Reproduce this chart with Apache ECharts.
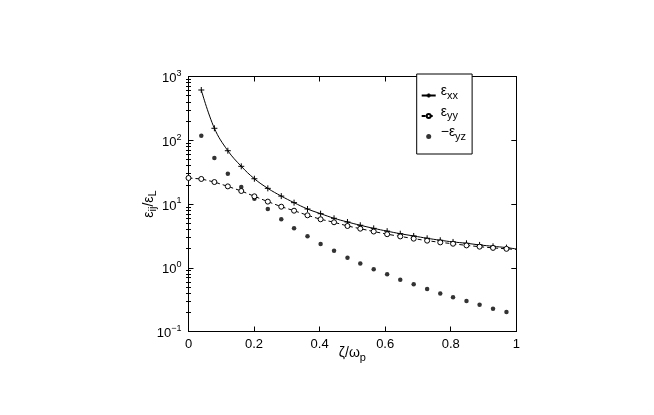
<!DOCTYPE html>
<html><head><meta charset="utf-8">
<script src="https://cdn.jsdelivr.net/npm/echarts@6/dist/echarts.min.js"></script>
<style>html,body{margin:0;padding:0;background:#fff}#c{width:654px;height:415px}</style>
</head><body><div id="c"></div>
<script>
// x tick labels and y decades
const xTicks = [0, 0.2, 0.4, 0.6, 0.8, 1];
const yDecades = [0.1, 1, 10, 100, 1000];
const yMinorTicks = [0.2,0.3,0.4,0.5,0.6,0.7,0.8,0.9, 2,3,4,5,6,7,8,9, 20,30,40,50,60,70,80,90, 200,300,400,500,600,700,800,900];

// sample positions zeta/omega_p
const zeta = [0.039,0.079,0.120,0.161,0.201,0.242,0.283,0.322,0.363,0.403,0.444,0.485,0.524,0.565,0.606,0.646,0.687,0.728,0.768,0.807,0.848,0.888,0.929,0.970];

// eps_xx / eps_L
const epsXX = [614,154,68.5,39.0,24.9,17.6,13.3,10.5,8.35,7.05,5.97,5.22,4.64,4.15,3.75,3.42,3.15,2.90,2.70,2.54,2.42,2.28,2.17,2.07];
const epsXXEnd = [1.0, 1.97];

// eps_yy / eps_L
const epsYYStart = [0, 25.6];
const epsYY = [24.7,22.1,18.9,16.0,13.2,10.9,9.07,7.85,6.65,5.76,5.17,4.52,4.10,3.70,3.36,3.10,2.86,2.66,2.50,2.38,2.24,2.14,2.05,1.98];
const epsYYEnd = [1.0, 1.94];

// -eps_yz / eps_L
const epsYZ = [118,52.7,29.9,18.5,12.1,8.36,5.76,4.16,3.11,2.36,1.85,1.44,1.17,0.946,0.789,0.650,0.550,0.464,0.395,0.344,0.301,0.263,0.228,0.202];

const FONT = 'Liberation Sans, Arial, sans-serif';
const supMap = {'-1':'\u22121','0':'0','1':'1','2':'2','3':'3'};

const xxData = zeta.map((x,i)=>[x, epsXX[i]]);
xxData.push({value: epsXXEnd, symbol: 'none'});
const yyData = [epsYYStart].concat(zeta.map((x,i)=>[x, epsYY[i]]));
yyData.push({value: epsYYEnd, symbol: 'none'});
const yzData = zeta.map((x,i)=>[x, epsYZ[i]]);

const chart = echarts.init(document.getElementById('c'), null, {renderer:'canvas'});
const grid = {left: 188.5, right: 137.7, top: 76.5, bottom: 83.5};
const lineC = '#000';

function xAxisCfg(pos, show) {
  return {
    type: 'value', min: 0, max: 1, interval: 0.2, position: pos,
    axisLine: {show: true, onZero: false, lineStyle: {color: lineC, width: 1}},
    axisTick: {show: true, inside: true, length: 5, lineStyle: {color: lineC}},
    axisLabel: {show: show, color: '#000', fontFamily: FONT, fontSize: 13, margin: 6,
      customValues: xTicks,
      formatter: v => String(+v.toFixed(1))},
    splitLine: {show: false}
  };
}
function yAxisCfg(pos, show) {
  return {
    type: 'log', logBase: 10, min: 0.1, max: 1000, interval: 1, position: pos,
    axisLine: {show: true, onZero: false, lineStyle: {color: lineC, width: 1}},
    axisTick: {show: true, inside: true, length: 5, lineStyle: {color: lineC}},
    axisLabel: {show: show, color: '#000', fontFamily: FONT, margin: 7,
      formatter: v => {
        const e = Math.round(Math.log10(v));
        return '{b|10}{s|' + supMap[String(e)] + '}';
      },
      rich: {
        b: {fontSize: 13, fontFamily: FONT, color: '#000', padding: [4,0,0,0]},
        s: {fontSize: 9, fontFamily: FONT, color: '#000', padding: [0,0,6,0]}
      }},
    splitLine: {show: false}
  };
}
function yMinorCfg(pos) {
  return {
    type: 'log', logBase: 10, min: 0.1, max: 1000, position: pos,
    axisLine: {show: false},
    axisTick: {show: true, inside: true, length: 2.5, customValues: yMinorTicks, lineStyle: {color: lineC}},
    axisLabel: {show: false},
    splitLine: {show: false}
  };
}

const yAxis0 = yAxisCfg('left', true);
yAxis0.name = '\u03b5{s|ij}/\u03b5{s|L}';
yAxis0.nameLocation = 'middle';
yAxis0.nameRotate = 90;
yAxis0.nameGap = 30;
yAxis0.nameMoveOverlap = false;
yAxis0.nameTextStyle = {color: '#000', fontFamily: FONT, fontSize: 14,
  rich: {s: {fontSize: 11, fontFamily: FONT, color: '#000', padding: [8,0,0,0]}}};

const xAxis0 = xAxisCfg('bottom', true);
xAxis0.name = '\u03b6/\u03c9{s|p}';
xAxis0.nameLocation = 'middle';
xAxis0.nameGap = 12;
xAxis0.nameMoveOverlap = false;
xAxis0.nameTextStyle = {color: '#000', fontFamily: FONT, fontSize: 14, verticalAlign: 'top',
  rich: {s: {fontSize: 11, fontFamily: FONT, color: '#000', padding: [9,0,0,0]}}};

const option = {
  backgroundColor: '#fff',
  animation: false,
  grid: grid,
  xAxis: [xAxis0, xAxisCfg('top', false)],
  yAxis: [yAxis0, yAxisCfg('right', false), yMinorCfg('left'), yMinorCfg('right')],
  legend: {
    orient: 'vertical', left: 416.7, top: 74,
    padding: [8, 6, 12, 4],
    itemWidth: 14, itemHeight: 5, itemGap: 1.5,
    borderColor: '#000', borderWidth: 1, backgroundColor: '#fff',
    data: ['xx', 'yy', 'yz'],
    formatter: n => n === 'yz' ? '{e|\u2212\u03b5}{s|yz}' : '{e|\u03b5}{s|' + n + '}',
    textStyle: {color: '#000', fontFamily: FONT, padding: [0,0,8,0],
      rich: {
        e: {fontSize: 14, lineHeight: 16, fontFamily: FONT, color: '#000'},
        s: {fontSize: 11, lineHeight: 12, fontFamily: FONT, color: '#000', padding: [8,0,0,0]}
      }}
  },
  series: [
    {
      name: 'xx', type: 'line', xAxisIndex: 0, yAxisIndex: 0,
      data: xxData, smooth: 0.4,
      symbol: 'path://M0,5L10,5M5,0L5,10', symbolSize: 6,
      itemStyle: {color: 'transparent', borderColor: '#000', borderWidth: 1},
      lineStyle: {color: '#000', width: 1}
    },
    {
      name: 'yy', type: 'line', xAxisIndex: 0, yAxisIndex: 0,
      data: yyData,
      symbol: 'circle', symbolSize: 5,
      itemStyle: {color: '#fff', borderColor: '#000', borderWidth: 1},
      lineStyle: {color: '#000', width: 1, type: [4, 3]}
    },
    {
      name: 'yz', type: 'scatter', xAxisIndex: 0, yAxisIndex: 0,
      data: yzData,
      symbol: 'circle', symbolSize: 4.5,
      itemStyle: {color: '#000'}
    }
  ]
};
chart.setOption(option);
</script>
</body></html>
